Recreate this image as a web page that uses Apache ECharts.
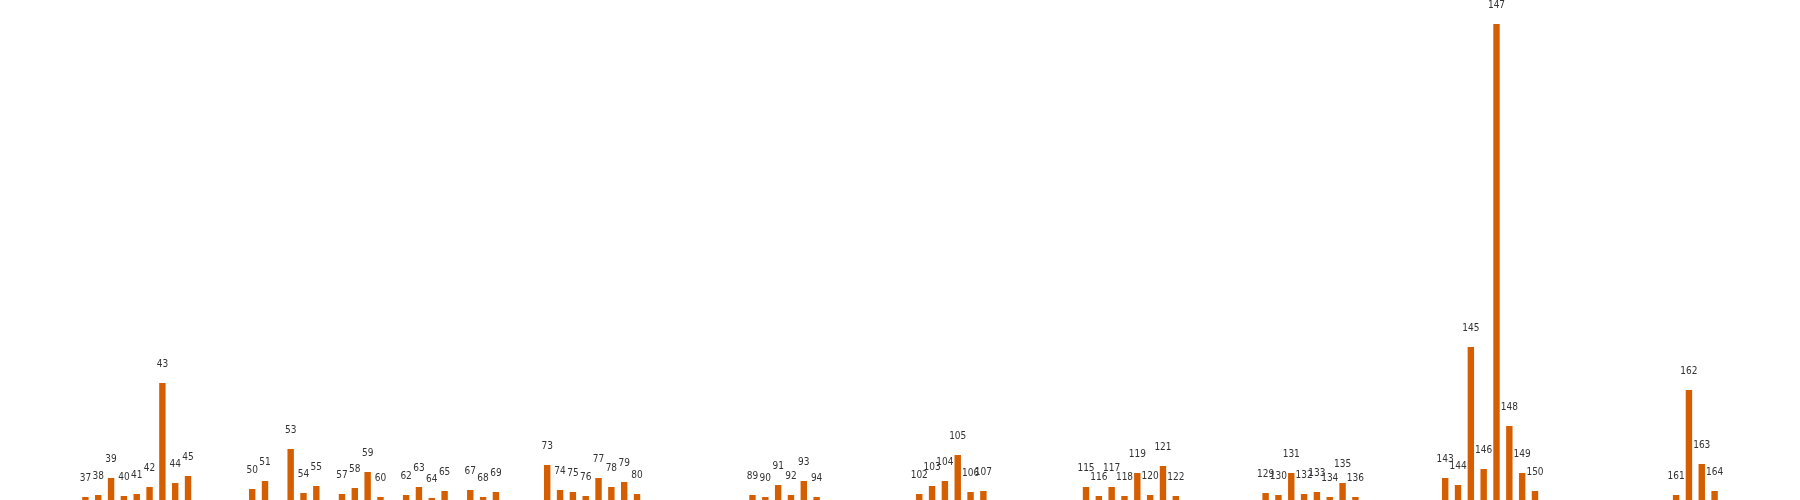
<!DOCTYPE html>
<html>
<head>
<meta charset="utf-8">
<script src="https://cdn.jsdelivr.net/npm/echarts@6/dist/echarts.min.js"></script>
<style>
html,body{margin:0;padding:0;background:#fff;}
#chart{width:1800px;height:500px;}
</style>
</head>
<body>
<div id="chart"></div>
<script>
const categories = [37,38,39,40,41,42,43,44,45,50,51,53,54,55,57,58,59,60,62,63,64,65,67,68,69,73,74,75,76,77,78,79,80,89,90,91,92,93,94,102,103,104,105,106,107,115,116,117,118,119,120,121,122,129,130,131,132,133,134,135,136,143,144,145,146,147,148,149,150,161,162,163,164];
const values = [3,5,22,4,6,13,117,17,24,11,19,51,7,14,6,12,28,3,5,13,2,9,10,3,8,35,10,8,4,22,13,18,6,5,3,15,5,19,3,6,14,19,45,8,9,13,4,13,4,27,5,34,4,7,5,27,6,8,3,17,3,22,15,153,31,476,74,27,9,5,110,36,9];
const axisStart = 37;
const axisEnd = 164;

const axisLabels = [];
const seriesData = [];
for (let c = axisStart; c <= axisEnd; c++) {
  axisLabels.push(String(c));
  const i = categories.indexOf(c);
  seriesData.push(i >= 0 ? values[i] : null);
}

const chart = echarts.init(document.getElementById('chart'), null, {renderer: 'canvas'});
chart.setOption({
  animation: false,
  backgroundColor: '#ffffff',
  grid: {left: 79, right: 79, top: 0, bottom: 0, containLabel: false},
  xAxis: {
    type: 'category',
    data: axisLabels,
    show: false,
    boundaryGap: true
  },
  yAxis: {
    type: 'value',
    min: 0,
    max: 500,
    show: false
  },
  series: [{
    type: 'bar',
    data: seriesData,
    barWidth: '50%',
    itemStyle: {color: '#D55E00'},
    label: {
      show: true,
      position: 'top',
      distance: 14,
      formatter: p => p.name,
      color: '#333333',
      fontSize: 10,
      fontFamily: '"Liberation Sans Narrow", "DejaVu Sans Condensed", sans-serif'
    },
    labelLayout: {hideOverlap: false}
  }]
});
</script>
</body>
</html>
